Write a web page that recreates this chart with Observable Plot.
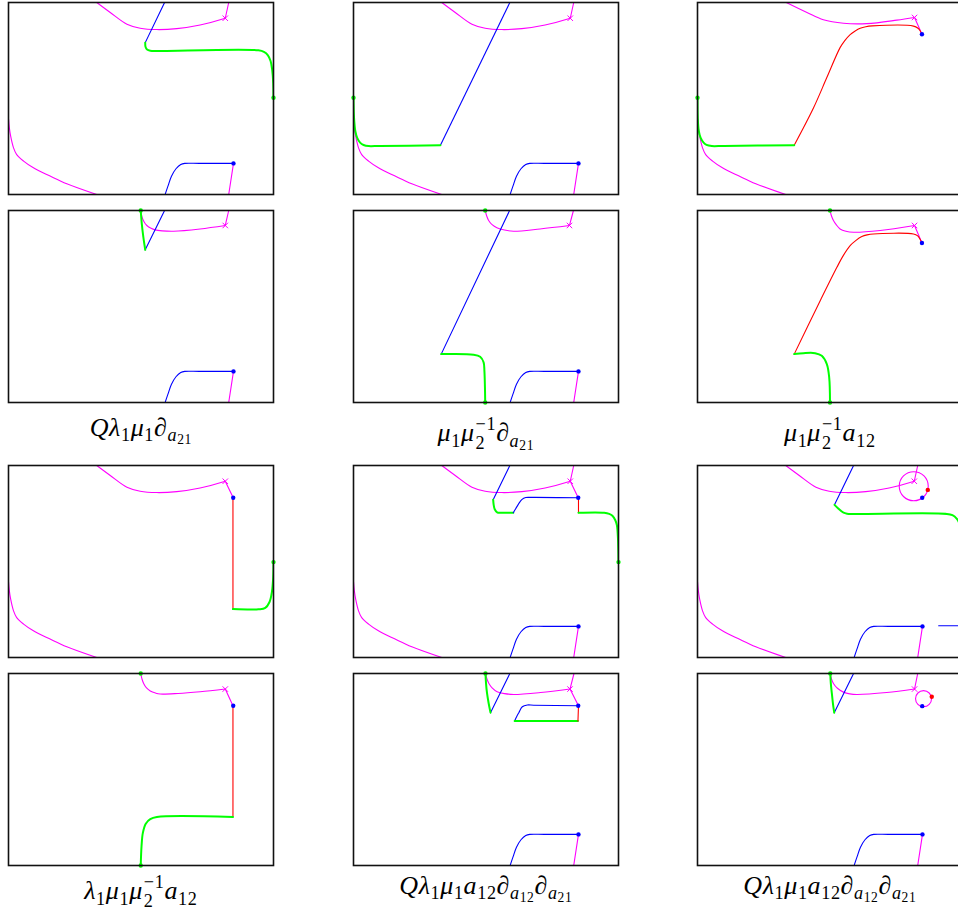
<!DOCTYPE html>
<html><head><meta charset="utf-8">
<script src="https://cdn.jsdelivr.net/npm/d3@7"></script>
<script src="https://cdn.jsdelivr.net/npm/@observablehq/plot@0.6"></script>
<style>
html,body{margin:0;padding:0;background:#fff;overflow:hidden}
#wrap{position:relative;width:958px;height:911px;overflow:hidden;background:#fff}
.panel{position:absolute;width:275px;height:202px}
.panel svg{max-width:none!important;display:block}
.lab{position:absolute;width:320px;text-align:center;font-family:"Liberation Serif",serif;font-size:26px;line-height:26px;letter-spacing:0.6px;color:#000;white-space:nowrap}
.lab .sb{font-size:70%;position:relative;top:0.3em}
.lab .sb2{font-size:52%;position:relative;top:0.62em}
.lab i{font-style:italic}
.ss{display:inline-block;font-size:70%;line-height:1.05em;vertical-align:-0.42em;text-align:left;padding-left:1px}
.ss span{display:block}
</style></head><body><div id="wrap"></div>
<script>
// ---- colours
const M = "#ff00ff", B = "#0000ff", G = "#00ff00", R = "#ff0000";

// ---- shared curves (panel units: x 0..100 left→right, y 0..100 bottom→top)
const magTopStd = [[33.3,100],[38.4,94.8],[44.7,88.7],[49.7,86.6],[56,85.9],[63.5,86.4],[72.3,88.3],[81.8,91.8]];
const magUpStd = [[81.8,91.8],[83.1,100]];
const magDownStd = [[81.8,91.8],[84.8,83.2]];
const magBL = [[0,39.5],[0.3,35],[0.8,30.5],[1.9,24.3],[3.1,20.8],[5.7,17.4],[9.4,13.9],[15.7,9.6],[22,5.6],[33.3,0]];
const blueBotStd = [[59.1,0],[60.2,4.5],[61.5,9.5],[63.2,13.4],[65,15.6],[66.5,16.2],[72,16.2],[84.9,16.2]];
const magBotStd = [[84.9,16.2],[83.1,0]];
const blueDotBot = [84.9,16.2];
const blueDotTop = [84.8,83.2];

// ---- row 1
const blueTop1 = [[58.9,100],[51.6,79.1]];
const green1 = [[51.6,79.1],[51.7,77],[52.3,75.5],[53.5,74.9],[57,74.8],[94.3,75.1],[96.4,74.3],[97.9,72.5],[98.9,69.5],[99.5,65],[99.9,58],[100,50.4]];
const blueTop2 = [[59,100],[32.8,25.6]];
const green2 = [[32.8,25.6],[10,25.3],[5.7,25.2],[3.8,25.8],[2.5,27],[1.4,29.5],[0.7,33],[0.2,40],[0,50.4]];
const magTop3 = [[33.5,100],[41.3,94.8],[47.5,91],[55.1,89.2],[63.9,89],[75.2,90.8],[81.9,92.2]];
const magDown3 = [[81.9,92.2],[84.7,83.5]];
const red3 = [[84.7,83.5],[84,85.3],[83.2,86.6],[81.5,87.7],[66,87.8],[63.5,87.4],[61.4,86.6],[59.5,85.2],[57.6,83.3],[55.5,80],[53.8,76.5],[48.8,60.9],[43.8,45.2],[36.5,25.7]];
const green3 = [[36.5,25.7],[10,25.3],[5.4,25.2],[3.4,25.8],[2.3,27],[1.2,29.5],[0.5,33],[0.1,40],[0,50.4]];

// ---- row 2
const mag4 = [[49.9,100],[50.4,96.5],[51.2,94],[52.2,92.2],[53.8,90.7],[55.3,89.9],[58,89.4],[62.3,89.2],[72.3,90.4],[81.8,92.2]];
const magUp4 = [[81.8,92.2],[83.1,100]];
const green4 = [[49.9,100],[50.3,93],[50.9,86],[51.6,79.5]];
const blue4 = [[51.6,79.5],[58.9,100]];
const mag5 = [[49.7,100],[50.3,97],[51,94.8],[52.3,92.6],[54.1,91],[57,89.8],[60.4,89.2],[70.4,90.4],[81.5,92.2]];
const magUp5 = [[81.5,92.2],[83,100]];
const blue5 = [[58.9,100],[33.1,25.2]];
const green5 = [[33.1,25.2],[45.3,24.9],[47.8,23.8],[49.1,20.9],[49.4,16.5],[49.6,8],[49.7,0]];
const mag6 = [[50,100],[50.6,97],[51.3,94.8],[52.4,92.5],[53.8,90.4],[56,89.2],[58.9,88.7],[68.9,89.6],[81.9,92.2]];
const magDown6 = [[81.9,92.2],[84.7,83.1]];
const red6 = [[84.7,83.1],[84,85],[83.1,86.8],[81.5,87.8],[66.4,87.8],[64,87.3],[62,86.4],[59.7,84.3],[57.6,81.7],[55,76.5],[52.6,70.4],[46.3,53],[36.5,25.2]];
const green6 = [[36.5,25.2],[40,25.7],[44.4,25.7],[46.9,24.3],[48.8,20],[49.7,13],[50,0]];

// ---- row 3
const red7 = [[84.7,83.2],[84.7,25.2]];
const green7 = [[84.7,25.2],[94.3,25.1],[96.9,25.8],[98.5,28.9],[99.4,34.1],[99.9,42],[100,49.7]];
const blue8a = [[59,100],[52.7,82.2]];
const green8a = [[52.7,82.2],[52.9,79.5],[53.3,77.2],[54.2,75.6],[56,75.4],[60.3,75.4]];
const blue8b = [[60.3,75.4],[61.2,77.5],[62.3,80],[63.5,82.2],[65,83.3],[67,83.4],[84.9,83.2]];
const red8 = [[84.9,83.2],[84.9,75.4]];
const green8b = [[84.9,75.4],[94.6,75.4],[96.5,74.8],[97.7,73.8],[98.8,71.5],[99.4,68.8],[99.8,62],[100,49.7]];
const circle9 = [81.6,89.2];
const blue9 = [[58.9,100],[51.7,79.5]];
const green9 = [[51.7,79.5],[53.2,77.5],[55.1,75.4],[56.4,74.9],[60,74.8],[94.1,74.8],[96.2,74.1],[97.8,72.3],[98.9,69.5],[99.5,65],[99.9,58],[100,50]];
const blueSeg9 = [[91,16.5],[100,16.5]];
const redDot9 = [86.9,87.3];

// ---- row 4
const mag10 = [[49.9,100],[50.4,97],[51,94.8],[52,92.6],[53.5,90.9],[55.5,89.8],[57.2,89.3],[64,89.6],[72.3,90.5],[81.8,91.9]];
const magDown10 = [[81.8,91.9],[84.7,83.2]];
const red10 = [[84.7,83.2],[84.7,25.3]];
const green10 = [[84.7,25.3],[56,25.3],[53.5,24.2],[51.8,21.8],[50.7,17],[50.2,10],[49.9,0]];
const green11 = [[49.8,100],[50,95],[50.4,89.6],[51,84.5],[51.7,79.6]];
const blue11a = [[51.7,79.6],[59,100]];
const mag11 = [[49.8,100],[50.4,97],[51.1,94.8],[52.3,92.5],[54.2,90.5],[57,89.5],[60.5,89.1],[70.6,90.1],[81.7,91.9]];
const magUp11 = [[81.7,91.9],[83.2,100]];
const magDown11 = [[81.7,91.9],[84.9,83.2]];
const blue11b = [[60.8,75.3],[61.6,77.6],[62.4,79.6],[63.7,82.7],[65.6,83.6],[68,83.5],[84.9,83.2]];
const green11b = [[60.8,75.3],[84.7,75.3]];
const red11 = [[84.7,75.3],[84.9,83.2]];
const green12 = [[50.1,100],[50.3,95],[50.7,89.6],[51.1,84.5],[51.6,79.6]];
const blue12 = [[51.6,79.6],[58.9,100]];
const mag12 = [[50.1,100],[50.6,97],[51.3,94.8],[52.8,92.3],[55.1,90.3],[57.5,89.4],[60.1,89.1],[71.4,90.1],[81.9,91.9]];
const magUp12 = [[81.9,91.9],[83.1,100]];
const circle12 = [85.3,86.9];
const blueDot12 = [84.8,83];
const redDot12 = [88.4,87.9];

// ---- labels
const MU2 = "<i>μ</i><span class='ss'><span>−1</span><span>2</span></span>";
const DA21 = "<i>∂</i><span class='sb'><i>a</i></span><span class='sb2'>21</span>";
const DA12 = "<i>∂</i><span class='sb'><i>a</i></span><span class='sb2'>12</span>";
const labels = [
  [1,0,"<i>Qλ</i><span class='sb'>1</span><i>μ</i><span class='sb'>1</span>" + DA21],
  [1,1,"<i>μ</i><span class='sb'>1</span>" + MU2 + DA21],
  [1,2,"<i>μ</i><span class='sb'>1</span>" + MU2 + "<i>a</i><span class='sb'>12</span>"],
  [3,0,"<i>λ</i><span class='sb'>1</span><i>μ</i><span class='sb'>1</span>" + MU2 + "<i>a</i><span class='sb'>12</span>"],
  [3,1,"<i>Qλ</i><span class='sb'>1</span><i>μ</i><span class='sb'>1</span><i>a</i><span class='sb'>12</span>" + DA12 + DA21],
  [3,2,"<i>Qλ</i><span class='sb'>1</span><i>μ</i><span class='sb'>1</span><i>a</i><span class='sb'>12</span>" + DA12 + DA21]
];
const labelTop = [0, 415, 0, 873];

// ---- panel specs
const L = "linear";
const panels = [
  {lines:[[magTopStd,M],[magUpStd,M,L],[magBL,M],[blueBotStd,B],[magBotStd,M,L],[blueTop1,B,L],[green1,G]],
   dots:[[blueDotBot,B],[[100,50.4],G]], cross:[81.8,91.8]},
  {lines:[[magTopStd,M],[magUpStd,M,L],[magBL,M],[blueBotStd,B],[magBotStd,M,L],[blueTop2,B,L],[green2,G]],
   dots:[[blueDotBot,B],[[0,50.4],G]], cross:[81.8,91.8]},
  {lines:[[magTop3,M],[magDown3,M,L],[magBL,M],[red3,R],[green3,G]],
   dots:[[[84.7,83.5],B],[[0,50.4],G]], cross:[81.9,92.2]},
  {lines:[[mag4,M],[magUp4,M,L],[blueBotStd,B],[magBotStd,M,L],[blue4,B,L],[green4,G]],
   dots:[[blueDotBot,B],[[49.9,100],G]], cross:[81.8,92.2]},
  {lines:[[mag5,M],[magUp5,M,L],[blueBotStd,B],[magBotStd,M,L],[blue5,B,L],[green5,G]],
   dots:[[blueDotBot,B],[[49.7,100],G],[[49.7,0],G]], cross:[81.5,92.2]},
  {lines:[[mag6,M],[magDown6,M,L],[red6,R],[green6,G]],
   dots:[[[84.7,83.1],B],[[50,100],G],[[50,0],G]], cross:[81.9,92.2]},
  {lines:[[magTopStd,M],[magDownStd,M,L],[magBL,M],[red7,R,L],[green7,G]],
   dots:[[blueDotTop,B],[[100,49.7],G]], cross:[81.8,91.8]},
  {lines:[[magTopStd,M],[magUpStd,M,L],[magDownStd,M,L],[magBL,M],[blueBotStd,B],[magBotStd,M,L],[blue8a,B,L],[green8a,G],[blue8b,B],[red8,R,L],[green8b,G]],
   dots:[[blueDotTop,B],[blueDotBot,B],[[100,49.7],G]], cross:[81.8,91.8]},
  {lines:[[magTopStd,M],[magUpStd,M,L],[magBL,M],[blueBotStd,B],[magBotStd,M,L],[blue9,B,L],[green9,G],[blueSeg9,B,L]],
   dots:[[blueDotTop,B],[blueDotBot,B],[redDot9,R]], cross:[81.8,91.8], circle:[circle9,14.5]},
  {lines:[[mag10,M],[magDown10,M,L],[red10,R,L],[green10,G]],
   dots:[[blueDotTop,B],[[49.9,100],G],[[49.9,0],G]], cross:[81.8,91.9]},
  {lines:[[mag11,M],[magUp11,M,L],[magDown11,M,L],[blueBotStd,B],[magBotStd,M,L],[blue11a,B,L],[green11,G],[blue11b,B],[green11b,G,L],[red11,R,L]],
   dots:[[blueDotTop,B],[blueDotBot,B],[[49.8,100],G]], cross:[81.7,91.9]},
  {lines:[[mag12,M],[magUp12,M,L],[blueBotStd,B],[magBotStd,M,L],[blue12,B,L],[green12,G]],
   dots:[[blueDot12,B],[blueDotBot,B],[redDot12,R],[[50.1,100],G]], cross:[81.9,91.9], circle:[circle12,8]}
];

const colX = [8.3, 353.3, 697.3];
const rowY = [1.7, 210, 465, 673.3];
const PW = 265, PH = 192, MG = 5;
const wrap = document.getElementById("wrap");

panels.forEach((p, i) => {
  const r = Math.floor(i / 3), c = i % 3;
  const marks = [];
  for (const [pts, color, curve] of p.lines) {
    marks.push(Plot.line(pts, {x: d => d[0], y: d => d[1], stroke: color,
      strokeWidth: color === G ? 2 : 1.1, curve: curve || "catmull-rom", clip: true}));
  }
  if (p.circle) {
    marks.push(Plot.dot([p.circle[0]], {x: d => d[0], y: d => d[1], r: p.circle[1], stroke: M, strokeWidth: 1.1, fill: "none"}));
  }
  marks.push(Plot.dot([p.cross], {x: d => d[0], y: d => d[1], symbol: "times", r: 2.6, stroke: M, strokeWidth: 1}));
  for (const [pt, color] of p.dots) {
    marks.push(Plot.dot([pt], {x: d => d[0], y: d => d[1], r: 2.2, fill: color, stroke: "none"}));
  }
  marks.push(Plot.frame({stroke: "#111", strokeWidth: 1.6}));
  const svg = Plot.plot({
    width: PW + 2 * MG, height: PH + 2 * MG, margin: MG,
    x: {domain: [0, 100], axis: null},
    y: {domain: [0, 100], axis: null},
    style: {background: "transparent", maxWidth: "none"},
    marks
  });
  const d = document.createElement("div");
  d.className = "panel";
  d.style.left = (colX[c] - MG) + "px";
  d.style.top = (rowY[r] - MG) + "px";
  d.appendChild(svg);
  wrap.appendChild(d);
});

labels.forEach(([r, c, html]) => {
  const d = document.createElement("div");
  d.className = "lab";
  d.innerHTML = html;
  d.style.left = (colX[c] + PW / 2 - 160) + "px";
  d.style.top = labelTop[r] + "px";
  wrap.appendChild(d);
});
</script></body></html>
